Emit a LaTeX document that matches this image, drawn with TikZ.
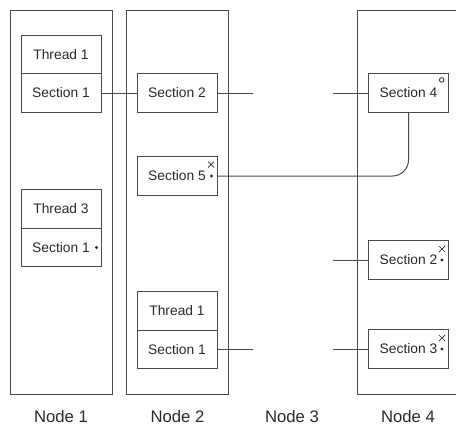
\documentclass[tikz,border=0pt]{standalone}
\usepackage{fontspec}
\setmainfont{Liberation Sans}
\definecolor{linegray}{HTML}{4A4A4A}
\definecolor{textgray}{HTML}{2A2A2A}
\begin{document}
\begin{tikzpicture}[x=1pt,y=-1pt,line width=1pt,
  column/.style={draw=linegray,line width=1pt,minimum width=102pt,minimum height=384pt,inner sep=0pt},
  block/.style={draw=linegray,line width=1pt,fill=white,minimum width=80pt,minimum height=38.5pt,inner sep=0pt,
    text=textgray,font=\fontsize{13.8}{16}\selectfont},
  caption/.style={text=textgray,font=\fontsize{16.7}{19}\selectfont,inner sep=0pt},
  mark dot/.style={fill=textgray,draw=none},
  cross/.style={draw=textgray,line width=0.7pt},
  link/.style={draw=linegray,line width=1pt}]
\useasboundingbox (0,0) rectangle (456,426);
\clip (0,0) rectangle (456,426);

% processing nodes (columns)
\node[column] (col1) at (61,202) {};
\node[column] (col2) at (177.5,202) {};
\node[column] (col4) at (408,202) {};

% free ends of the connectors
\coordinate (outA) at (253,93);
\coordinate (inA)  at (333,93);
\coordinate (inB)  at (333,260);
\coordinate (outC) at (253,349.5);
\coordinate (inC)  at (333,349);

% node 1
\node[block] (t11) at (61,54.5) {Thread 1};
\node[block] (s11) at (61,93) {Section 1};
\node[block] (t13) at (61,209) {Thread 3};
\node[block] (s13) at (61,247.5) {Section 1};

% node 2
\node[block] (s22) at (177,93) {Section 2};
\node[block] (s25) at (177,176) {Section 5};
\node[block] (t21) at (177,311) {Thread 1};
\node[block] (s21) at (177,349.5) {Section 1};

% node 4
\node[block] (s44) at (408.5,93) {Section 4};
\node[block] (s42) at (408.5,260) {Section 2};
\node[block] (s43) at (408.5,349) {Section 3};

% links between sections
\draw[link] (s11.east) -- (s22.west);
\draw[link] (s22.east) -- (outA);
\draw[link] (inA) -- (s44.west);
\draw[link,rounded corners=16pt] (s25.east) -| (s44.south);
\draw[link] (inB) -- (s42.west);
\draw[link] (s21.east) -- (outC);
\draw[link] (inC) -- (s43.west);

% state marks (yshift is measured upwards)
\fill[mark dot] ([xshift=-5pt]s13.east) circle (1.6pt);
\fill[mark dot] ([xshift=-6pt]s25.east) circle (1.6pt);
\draw[cross] ([xshift=-6.3pt,yshift=11.5pt]s25.east) ++(-3,-3) -- ++(6,6) ++(-6,0) -- ++(6,-6);
\draw[draw=textgray,line width=0.8pt] ([xshift=-7.3pt,yshift=-6.7pt]s44.north east) circle (2.3pt);
\fill[mark dot] ([xshift=-7pt]s42.east) circle (1.6pt);
\draw[cross] ([xshift=-7pt,yshift=11pt]s42.east) ++(-3,-3) -- ++(6,6) ++(-6,0) -- ++(6,-6);
\fill[mark dot] ([xshift=-7pt]s43.east) circle (1.6pt);
\draw[cross] ([xshift=-7pt,yshift=11pt]s43.east) ++(-3,-3) -- ++(6,6) ++(-6,0) -- ++(6,-6);

% captions
\node[caption] (n1) at (61,417) {Node 1};
\node[caption] (n2) at (177.5,417) {Node 2};
\node[caption] (n3) at (292,417) {Node 3};
\node[caption] (n4) at (408,417) {Node 4};
\end{tikzpicture}
\end{document}
